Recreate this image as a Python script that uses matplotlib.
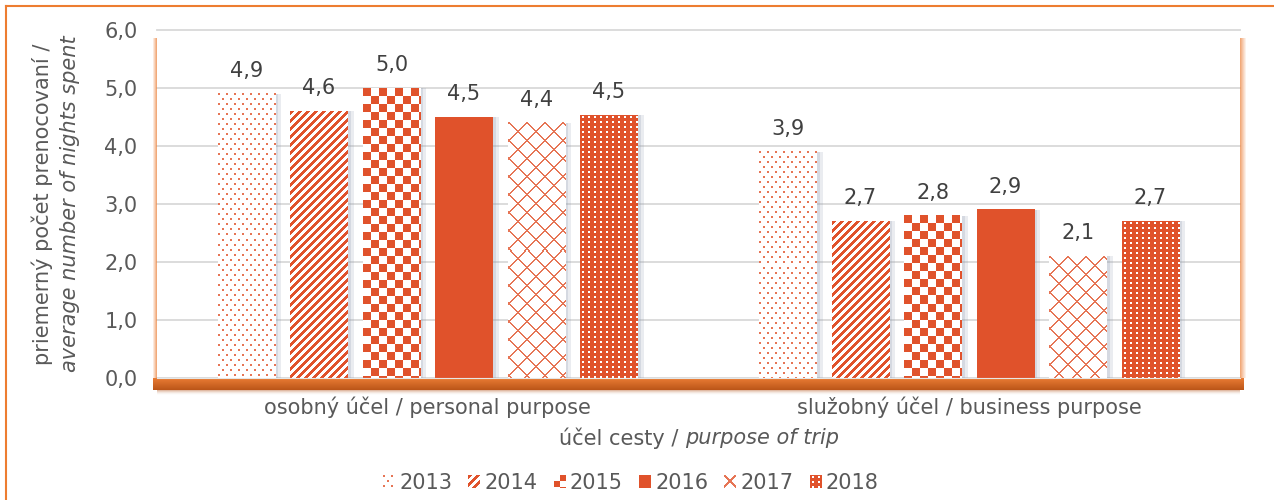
import numpy as np
import matplotlib
matplotlib.use("Agg")
import matplotlib.pyplot as plt
import matplotlib.patheffects as pe
from matplotlib.patches import Rectangle
from matplotlib.lines import Line2D

# ---------------- data ----------------
categories = ["osobný účel / personal purpose", "služobný účel / business purpose"]
years = ["2013", "2014", "2015", "2016", "2017", "2018"]
values_2013 = [4.9, 3.9]
values_2014 = [4.6, 2.7]
values_2015 = [5.0, 2.8]
values_2016 = [4.5, 2.9]
values_2017 = [4.4, 2.1]
values_2018 = [4.53, 2.7]
y_ticks = [0, 1, 2, 3, 4, 5, 6]
y_tick_labels = ["0,0", "1,0", "2,0", "3,0", "4,0", "5,0", "6,0"]
ylabel_line1 = "priemerný počet prenocovaní /"
ylabel_line2 = "average number of nights spent"
xlabel_part1 = "účel cesty /"
xlabel_part2 = "purpose of trip"

series = [values_2013, values_2014, values_2015, values_2016, values_2017, values_2018]
patterns = ["dots", "stripes", "checker", "solid", "lattice", "grid"]

# ---------------- style ----------------
ORANGE = np.array([224, 83, 43]) / 255.0
FRAME = "#ED7D31"
TXT = "#595959"
LBL = "#404040"
FS = 15
W, H, DPI = 1274, 500, 100
plt.rcParams["font.family"] = ["DejaVu Sans"]


def pattern_mask(kind, h, w, icon=False):
    yy, xx = np.mgrid[0:h, 0:w]
    if kind == "dots":
        m = (((xx % 8) < 2) & ((yy % 10) < 2)) | ((((xx + 4) % 8) < 2) & (((yy + 5) % 10) < 2))
        s = 0.8
    elif kind == "stripes":
        m = ((xx + yy) % 8) < 4
        s = 1.0
    elif kind == "checker":
        c = 6 if icon else 8
        m = ((xx // c + yy // c) % 2) == (1 if icon else 0)
        s = 1.0
    elif kind == "solid":
        m = np.ones((h, w), bool)
        s = 1.0
    elif kind == "lattice":
        if icon:
            m = (np.abs(xx - yy) < 1.2) | (np.abs(xx + yy - (w - 1)) < 1.2)
        else:
            m = (((xx + yy) % 18) < 2) | (((xx - yy) % 18) < 2)
        s = 0.8
    else:  # grid
        white = (((xx % 6) == 2) | ((xx % 6) == 3)) & (((yy % 5) == 1) | ((yy % 5) == 2))
        m = ~white
        s = 1.0
    return m.astype(float) * s


def pattern_rgba(kind, h, w, icon=False):
    m = pattern_mask(kind, h, w, icon)
    img = np.ones((h, w, 4))
    for c in range(3):
        img[..., c] = 1 - m * (1 - ORANGE[c])
    return img


fig = plt.figure(figsize=(W / DPI, H / DPI), dpi=DPI, facecolor="white")
L, R, T, B = 157, 1240, 30, 378
ax = fig.add_axes([L / W, 1 - B / H, (R - L) / W, (B - T) / H])
ax.set_xlim(-0.5, 1.5)
ax.set_ylim(0, 6)
ax.set_autoscale_on(False)

step, bw = 0.1339, 0.107
x = np.arange(len(categories))
bars_by_series = []
for i, vals in enumerate(series):
    off = (i - 2.5) * step
    bars = ax.bar(x + off, vals, width=bw, color="white", edgecolor="none", zorder=2,
                  path_effects=[pe.SimplePatchShadow(offset=(4, 0), shadow_rgbFace=(0.55, 0.6, 0.68), alpha=0.18),
                                pe.SimplePatchShadow(offset=(2, 0), shadow_rgbFace=(0.55, 0.6, 0.68), alpha=0.22),
                                pe.Normal()])
    bars_by_series.append(bars)

# textures
for bars, kind in zip(bars_by_series, patterns):
    for bar in bars:
        x0, y0, w, h = bar.get_x(), bar.get_y(), bar.get_width(), bar.get_height()
        (px0, py0), (px1, py1) = ax.transData.transform([(x0, y0), (x0 + w, y0 + h)])
        nw = max(1, int(round(px1 - px0)))
        nh = max(1, int(round(py1 - py0)))
        ax.imshow(pattern_rgba(kind, nh, nw), extent=(x0, x0 + w, y0, y0 + h), origin="upper",
                  interpolation="nearest", aspect="auto", zorder=2.5)

# data labels
for bars, vals in zip(bars_by_series, series):
    for bar, v in zip(bars, vals):
        ax.annotate(f"{v:.1f}".replace(".", ","), (bar.get_x() + bar.get_width() / 2, bar.get_height()),
                    xytext=(0, 16.5), textcoords="offset points", ha="center", va="center",
                    fontsize=FS, color=LBL, zorder=5)

ax.set_yticks(y_ticks)
ax.set_yticklabels(y_tick_labels)
ax.set_xticks(x)
ax.set_xticklabels(categories)
ax.tick_params(axis="both", length=0, labelsize=FS, labelcolor=TXT)
ax.tick_params(axis="y", pad=14)
ax.tick_params(axis="x", pad=13)
for s in ax.spines.values():
    s.set_visible(False)
ax.yaxis.grid(True, color="#D9D9D9", linewidth=1.3)
ax.set_axisbelow(True)
for gl in ax.get_ygridlines():
    gl.set_clip_on(False)

# 3D-ish frame edges of the plot area
px_x = 1.0 / (R - L)
px_y = 1.0 / (B - T)


def grad(c0, c1, a0, a1, n, horizontal):
    t = np.linspace(0, 1, n)
    col = np.outer(1 - t, c0) + np.outer(t, c1)
    a = (1 - t) * a0 + t * a1
    arr = np.concatenate([col, a[:, None]], axis=1)
    if horizontal:
        return arr[None, :, :]
    return arr[:, None, :]


peach = np.array([0.93, 0.55, 0.30])
# left edge
ax.imshow(grad(peach, peach, 0.0, 0.75, 5, True), extent=(-5 * px_x, 0, 0, 1 - 8 * px_y),
          transform=ax.transAxes, clip_on=False, aspect="auto", zorder=3, interpolation="bilinear")
# right edge
ax.imshow(grad(peach, peach, 0.75, 0.0, 7, True), extent=(1, 1 + 7 * px_x, 0, 1 - 8 * px_y),
          transform=ax.transAxes, clip_on=False, aspect="auto", zorder=3, interpolation="bilinear")
# bottom band
band = grad(np.array([0.91, 0.48, 0.20]), np.array([0.74, 0.34, 0.10]), 1.0, 1.0, 12, False)
ax.imshow(band, extent=(-4 * px_x, 1 + 4 * px_x, -12 * px_y, 0), transform=ax.transAxes, clip_on=False,
          aspect="auto", zorder=3, interpolation="bilinear")
shadow = grad(np.array([0.80, 0.55, 0.40]), np.array([1, 1, 1]), 0.6, 0.0, 6, False)
ax.imshow(shadow, extent=(0, 1, -18 * px_y, -12 * px_y), transform=ax.transAxes, clip_on=False,
          aspect="auto", zorder=3, interpolation="bilinear")
ax.add_line(Line2D([0, 1], [0, 0], transform=ax.transAxes, color="#E6E6E6", lw=0.8, clip_on=False, zorder=3.5))

# figure frame (orange)
fig.add_artist(Line2D([6 / W, 6 / W], [0, 1 - 5.5 / H], color=FRAME, lw=1.5, transform=fig.transFigure))
fig.add_artist(Line2D([6 / W, 1], [1 - 5.5 / H, 1 - 5.5 / H], color=FRAME, lw=1.5, transform=fig.transFigure))

# y label (two lines, second italic)
fig.text(42 / W, 1 - 204 / H, ylabel_line1, rotation=90, ha="center", va="center", fontsize=FS, color=TXT)
fig.text(70 / W, 1 - 204 / H, ylabel_line2, rotation=90, ha="center", va="center", fontsize=FS,
         color=TXT, style="italic")

# x title
t1 = fig.text(0, 1 - 438 / H, xlabel_part1, ha="left", va="center", fontsize=FS, color=TXT)
t2 = fig.text(0, 1 - 438 / H, xlabel_part2, ha="left", va="center", fontsize=FS, color=TXT, style="italic")

# legend
handles = [Rectangle((0, 0), 1, 1, facecolor="white", edgecolor="none") for _ in years]
leg = fig.legend(handles, years, loc="center", bbox_to_anchor=(631 / W, 1 - 483 / H), ncol=6, frameon=False,
                 fontsize=FS, handlelength=0.58, handleheight=0.58, handletextpad=0.2, columnspacing=0.77,
                 labelcolor=TXT, borderpad=0, borderaxespad=0)

fig.canvas.draw()
r = fig.canvas.get_renderer()
w1 = t1.get_window_extent(r).width
w2 = t2.get_window_extent(r).width
gap = 6.5
start = 699 - (w1 + gap + w2) / 2
t1.set_x(start / W)
t2.set_x((start + w1 + gap) / W)

for hdl, kind in zip(leg.legend_handles, patterns):
    bb = hdl.get_window_extent(r)
    nw = max(1, int(round(bb.width)))
    nh = max(1, int(round(bb.height)))
    fig.figimage(pattern_rgba(kind, nh, nw, icon=True), xo=int(round(bb.x0)), yo=int(round(bb.y0)),
                 zorder=10, origin="upper")

fig.savefig("out.png", dpi=DPI, facecolor="white")
